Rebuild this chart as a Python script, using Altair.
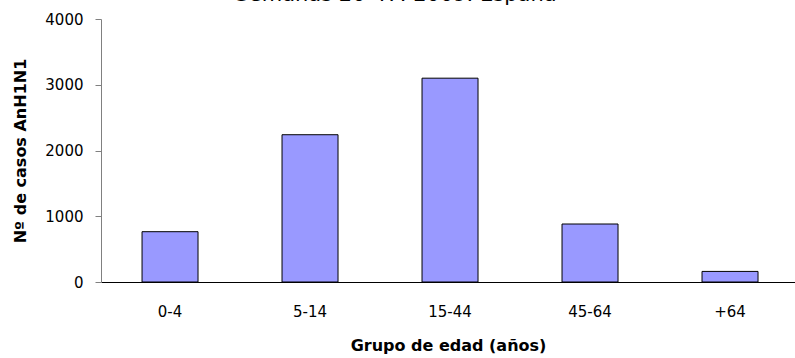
import altair as alt
import pandas as pd

grupos = ["0-4", "5-14", "15-44", "45-64", "+64"]
casos = [765, 2240, 3100, 882, 161]

titulo = "Semanas 20-47. 2009. España"
titulo_y = "Nº de casos AnH1N1"
titulo_x = "Grupo de edad (años)"

df = pd.DataFrame({"grupo": grupos, "casos": casos})

FONT = "DejaVu Sans"

chart = alt.Chart(df).mark_bar(
    color="#9999FF", stroke="#000000", strokeWidth=1
).encode(
    x=alt.X("grupo:N", sort=grupos,
            scale=alt.Scale(paddingInner=0.6, paddingOuter=0.2786, align=0.526),
            axis=alt.Axis(title=titulo_x, labelAngle=0, ticks=False,
                          labelPadding=22, domainColor="#000000",
                          labelFont=FONT, labelFontSize=15, labelColor="#000000",
                          titleFont=FONT, titleFontSize=16, titleFontWeight="bold",
                          titleColor="#000000", titlePadding=18)),
    y=alt.Y("casos:Q", scale=alt.Scale(domain=[0, 4000], nice=False),
            axis=alt.Axis(title=titulo_y, values=[0, 1000, 2000, 3000, 4000],
                          format="d",
                          grid=False, tickSize=6, tickColor="#808080",
                          domainColor="#808080", labelPadding=12,
                          labelFont=FONT, labelFontSize=15, labelColor="#000000",
                          titleFont=FONT, titleFontSize=16, titleFontWeight="bold",
                          titleColor="#000000", titlePadding=16)),
).properties(
    width=694, height=263,
    title=alt.TitleParams(titulo, font=FONT, fontSize=21, fontWeight="normal",
                          color="#000000", anchor="middle", offset=7, dx=-52),
    autosize=alt.AutoSizeParams(type="none"),
    padding={"left": 101, "top": 19, "right": 0, "bottom": 76},
).configure_view(stroke=None)

chart.save("out.html", embed_options={"renderer": "svg", "actions": False})
